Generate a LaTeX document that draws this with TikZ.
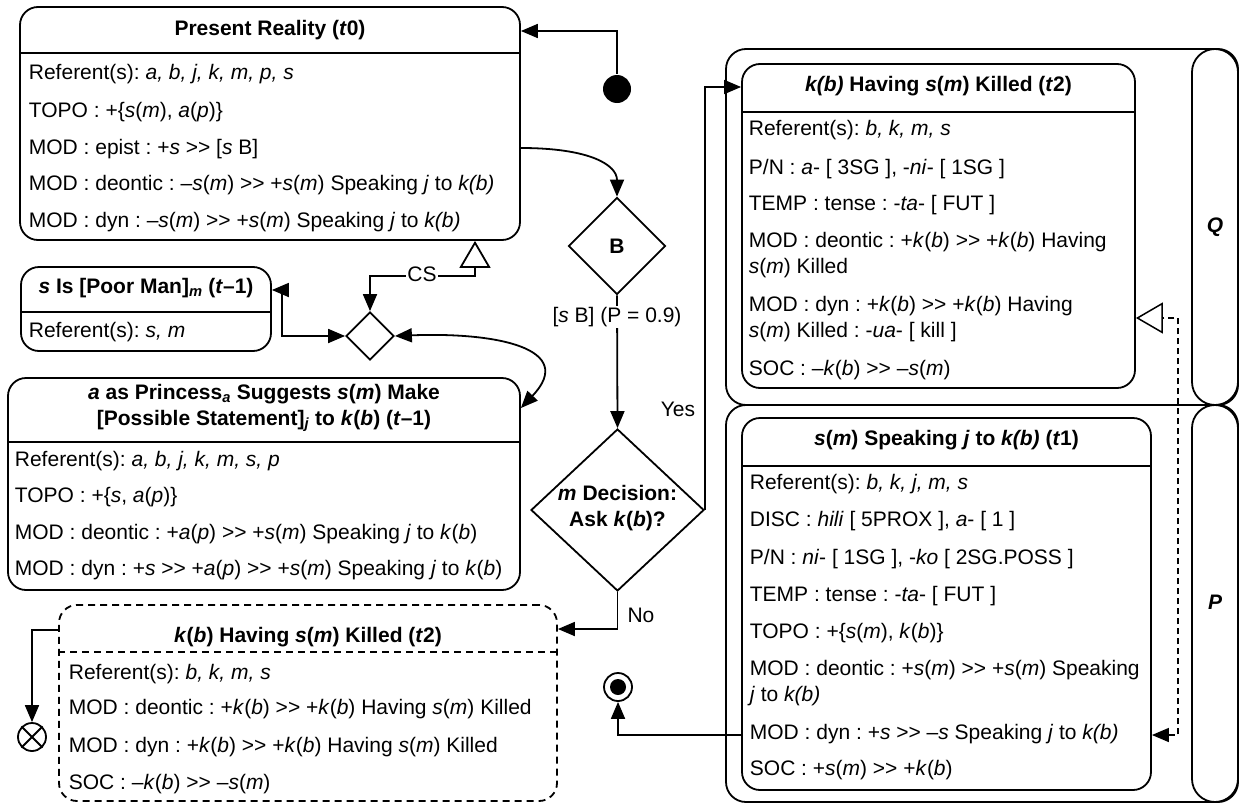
\documentclass[tikz,border=0pt]{standalone}
\usepackage{fontspec}
\setmainfont{Liberation Sans}
\usetikzlibrary{arrows.meta,shapes.geometric}
% ">>" written with a kern so the TeX ligature mapping leaves it alone
\newcommand\gtgt{>\kern0pt>}
\frenchspacing
\begin{document}
\begin{tikzpicture}[x=1pt,y=-1pt,line width=1.8pt,
  every node/.style={inner sep=0pt,font=\fontsize{21}{26}\selectfont},
  state/.style={draw,rounded corners=18pt},
  alt/.style={state,dash pattern=on 7pt off 5pt},
  ttl/.style={font=\fontsize{21}{26}\selectfont\bfseries,align=center},
  row/.style={anchor=base west,yshift=-7.5pt},
  wrow/.style={anchor=west,align=left},
  lbl/.style={fill=white,inner sep=1.5pt},
  lane/.style={draw,rounded corners=20pt},
  capsule/.style={draw,rounded corners=23pt,minimum width=46},
  lanelbl/.style={font=\fontsize{21}{26}\selectfont\bfseries\itshape},
  fwd/.style={-{Triangle[length=17pt,width=14pt]}},
  both/.style={{Triangle[length=17pt,width=14pt]}-{Triangle[length=17pt,width=14pt]}},
  gen/.style={{Triangle[length=17pt,width=14pt]}-{Triangle[open,length=27pt,width=31pt]}},
]
\useasboundingbox (0,0) rectangle (1239,803);

% ---------- swimlanes Q and P ----------
\node[lane,minimum width=512,minimum height=356] (laneQ) at (982,227) {};
\node[capsule,minimum height=356] (capQ) at (1215,227) {};
\node[lanelbl] (labQ) at (1215,227) {Q};
\node[lane,minimum width=512,minimum height=397] (laneP) at (982,603.5) {};
\node[capsule,minimum height=397] (capP) at (1215,603.5) {};
\node[lanelbl] (labP) at (1215,602) {P};

% ---------- Present Reality ----------
\node[state,minimum width=500,minimum height=233] (pr) at (270,123.5) {};
\draw (pr.north west) ++(0,47) -- ++(500,0);
\node[ttl] (prT) at (270,30) {Present Reality (\textit{t}0)};
\node[row] (pr1) at (28,72) {Referent(s): \textit{a, b, j, k, m, p, s}};
\node[row] (pr2) at (28,110) {TOPO : +\{\textit{s}(\textit{m}), \textit{a}(\textit{p})\}};
\node[row] (pr3) at (28,147) {MOD : epist : +\textit{s} \gtgt{} [\textit{s} B]};
\node[row] (pr4) at (28,183) {MOD : deontic : –\textit{s}(\textit{m}) \gtgt{} +\textit{s}(\textit{m}) Speaking \textit{j} to \textit{k(b)}};
\node[row] (pr5) at (28,220) {MOD : dyn : –\textit{s}(\textit{m}) \gtgt{} +\textit{s}(\textit{m}) Speaking \textit{j} to \textit{k(b)}};

% ---------- s Is [Poor Man] ----------
\node[state,minimum width=250,minimum height=84] (small) at (146,309) {};
\draw (small.north west) ++(0,46) -- ++(250,0);
\node[ttl] (smallT) at (146,288) {\textit{s} Is [Poor Man]\textsubscript{\textit{m}} (\textit{t}–1)};
\node[row] (small1) at (28,330) {Referent(s): \textit{s, m}};

% ---------- a as Princess ----------
\node[state,minimum width=512,minimum height=212] (princess) at (264,484) {};
\draw (princess.north west) ++(0,65) -- ++(512,0);
\node[ttl] (princessT) at (264,408) {\textit{a} as Princess\textsubscript{\textit{a}} Suggests \textit{s}(\textit{m}) Make\\\relax [Possible Statement]\textsubscript{\textit{j}} to \textit{k}(\textit{b}) (\textit{t}–1)};
\node[row] (pc1) at (14,459) {Referent(s): \textit{a, b, j, k, m, s, p}};
\node[row] (pc2) at (14,495) {TOPO : +\{\textit{s}, \textit{a}(\textit{p})\}};
\node[row] (pc3) at (14,532) {MOD : deontic : +\textit{a}(\textit{p}) \gtgt{} +\textit{s}(\textit{m}) Speaking \textit{j} to \textit{k}(\textit{b})};
\node[row] (pc4) at (14,568) {MOD : dyn : +\textit{s} \gtgt{} +\textit{a}(\textit{p}) \gtgt{} +\textit{s}(\textit{m}) Speaking \textit{j} to \textit{k}(\textit{b})};

% ---------- alternative outcome (dashed) ----------
\node[alt,minimum width=498,minimum height=196] (dash) at (308,703) {};
\draw[dash pattern=on 7pt off 5pt] (dash.north west) ++(0,48) -- ++(498,0);
\node[ttl] (dashT) at (308,637) {\textit{k}(\textit{b}) Having \textit{s}(\textit{m}) Killed (\textit{t}2)};
\node[row] (ds1) at (68,672) {Referent(s): \textit{b, k, m, s}};
\node[row] (ds2) at (68,707) {MOD : deontic : +\textit{k}(\textit{b}) \gtgt{} +\textit{k}(\textit{b}) Having \textit{s}(\textit{m}) Killed};
\node[row] (ds3) at (68,745) {MOD : dyn : +\textit{k}(\textit{b}) \gtgt{} +\textit{k}(\textit{b}) Having \textit{s}(\textit{m}) Killed};
\node[row] (ds4) at (68,782) {SOC : –\textit{k}(\textit{b}) \gtgt{} –\textit{s}(\textit{m})};

% ---------- k(b) Having s(m) Killed (t2) ----------
\node[state,minimum width=393,minimum height=324] (t2) at (938.5,226) {};
\draw (t2.north west) ++(0,49) -- ++(393,0);
\node[ttl] (t2T) at (938.5,86) {\textit{k(b)} Having \textit{s}(\textit{m}) Killed (\textit{t}2)};
\node[row] (q1) at (748,128) {Referent(s): \textit{b, k, m, s}};
\node[row] (q2) at (748,167) {P/N : \textit{a}- [ 3SG ], -\textit{ni}- [ 1SG ]};
\node[row] (q3) at (748,203) {TEMP : tense : -\textit{ta}- [ FUT ]};
\node[wrow] (q4) at (748,255) {MOD : deontic : +\textit{k}(\textit{b}) \gtgt{} +\textit{k}(\textit{b}) Having\\\textit{s}(\textit{m}) Killed};
\node[wrow] (q5) at (748,319) {MOD : dyn : +\textit{k}(\textit{b}) \gtgt{} +\textit{k}(\textit{b}) Having\\\textit{s}(\textit{m}) Killed : -\textit{ua}- [ kill ]};
\node[row] (q6) at (748,368) {SOC : –\textit{k}(\textit{b}) \gtgt{} –\textit{s}(\textit{m})};

% ---------- s(m) Speaking j to k(b) (t1) ----------
\node[state,minimum width=409,minimum height=372] (t1) at (946.5,604) {};
\draw (t1.north west) ++(0,49) -- ++(409,0);
\node[ttl] (t1T) at (946.5,440) {\textit{s}(\textit{m}) Speaking \textit{j} to \textit{k(b)} (\textit{t}1)};
\node[row] (p1) at (749,482) {Referent(s): \textit{b, k, j, m, s}};
\node[row] (p2) at (749,519) {DISC : \textit{hili} [ 5PROX ], \textit{a}- [ 1 ]};
\node[row] (p3) at (749,557) {P/N : \textit{ni}- [ 1SG ], -\textit{ko} [ 2SG.POSS ]};
\node[row] (p4) at (749,594) {TEMP : tense : -\textit{ta}- [ FUT ]};
\node[row] (p5) at (749,631) {TOPO : +\{\textit{s}(\textit{m}), \textit{k}(\textit{b})\}};
\node[wrow] (p6) at (749,683) {MOD : deontic : +\textit{s}(\textit{m}) \gtgt{} +\textit{s}(\textit{m}) Speaking\\\textit{j} to \textit{k(b)}};
\node[row] (p7) at (749,732) {MOD : dyn : +\textit{s} \gtgt{} –\textit{s} Speaking \textit{j} to \textit{k(b)}};
\node[row] (p8) at (749,768) {SOC : +\textit{s}(\textit{m}) \gtgt{} +\textit{k}(\textit{b})};

% ---------- decisions, merge, start and end points ----------
\node[draw,diamond,minimum width=97,minimum height=97,font=\fontsize{21}{26}\selectfont\bfseries] (Bd) at (617,246) {B};
\node[draw,diamond,minimum width=173,minimum height=162] (dec) at (617.5,510) {};
\node[ttl] (decT) at (617.5,508) {\textit{m} Decision:\\Ask \textit{k}(\textit{b})?};
\node[draw,diamond,minimum width=48,minimum height=48] (merge) at (370,336) {};
\node[circle,fill,minimum size=28] (init) at (617,89) {};
\node[draw,circle,fill=white,minimum size=28] (final) at (618,687) {};
\node[circle,fill,minimum size=16] (finalDot) at (618,687) {};
\node[draw,circle,fill=white,minimum size=28] (ff) at (32,737) {};
\draw (ff.45) -- (ff.225) (ff.135) -- (ff.315);

% ---------- connectors ----------
\draw[fwd] (init.north) |- (pr.east |- 0,31);
\draw[fwd] (pr.east |- 0,148) .. controls (590,148) and (617,165) .. (Bd.north);
\draw[fwd] (Bd.south) -- (dec.north);
\node[lbl] (pLbl) at (617,317) {[\textit{s} B] (P = 0.9)};
\draw[fwd] (dec.east) |- (t2.west |- 0,87);
\node (yesLbl) at (678,409) {Yes};
\draw[fwd] (dec.south) |- (dash.east |- 0,629);
\node (noLbl) at (641,615) {No};
\draw[fwd] (dash.west |- 0,630) -| (ff.north);
\draw[gen] (merge.north) |- (475,276) -- (pr.south -| 475,0);
\node[lbl] (csLbl) at (422,274) {CS};
\draw[both] (merge.west) -- ++(-63,0) |- (small.east |- 0,290);
\draw[both] (merge.east) .. controls (495,332) and (578,348) .. (princess.east |- 0,408);
\draw[gen,line width=1.5pt,dash pattern=on 6pt off 4pt] (t1.east |- 0,735) -| (1178,318) -- (t2.east |- 0,318);
\draw[fwd] (t1.west |- 0,735) -| (final.south);
\end{tikzpicture}
\end{document}
